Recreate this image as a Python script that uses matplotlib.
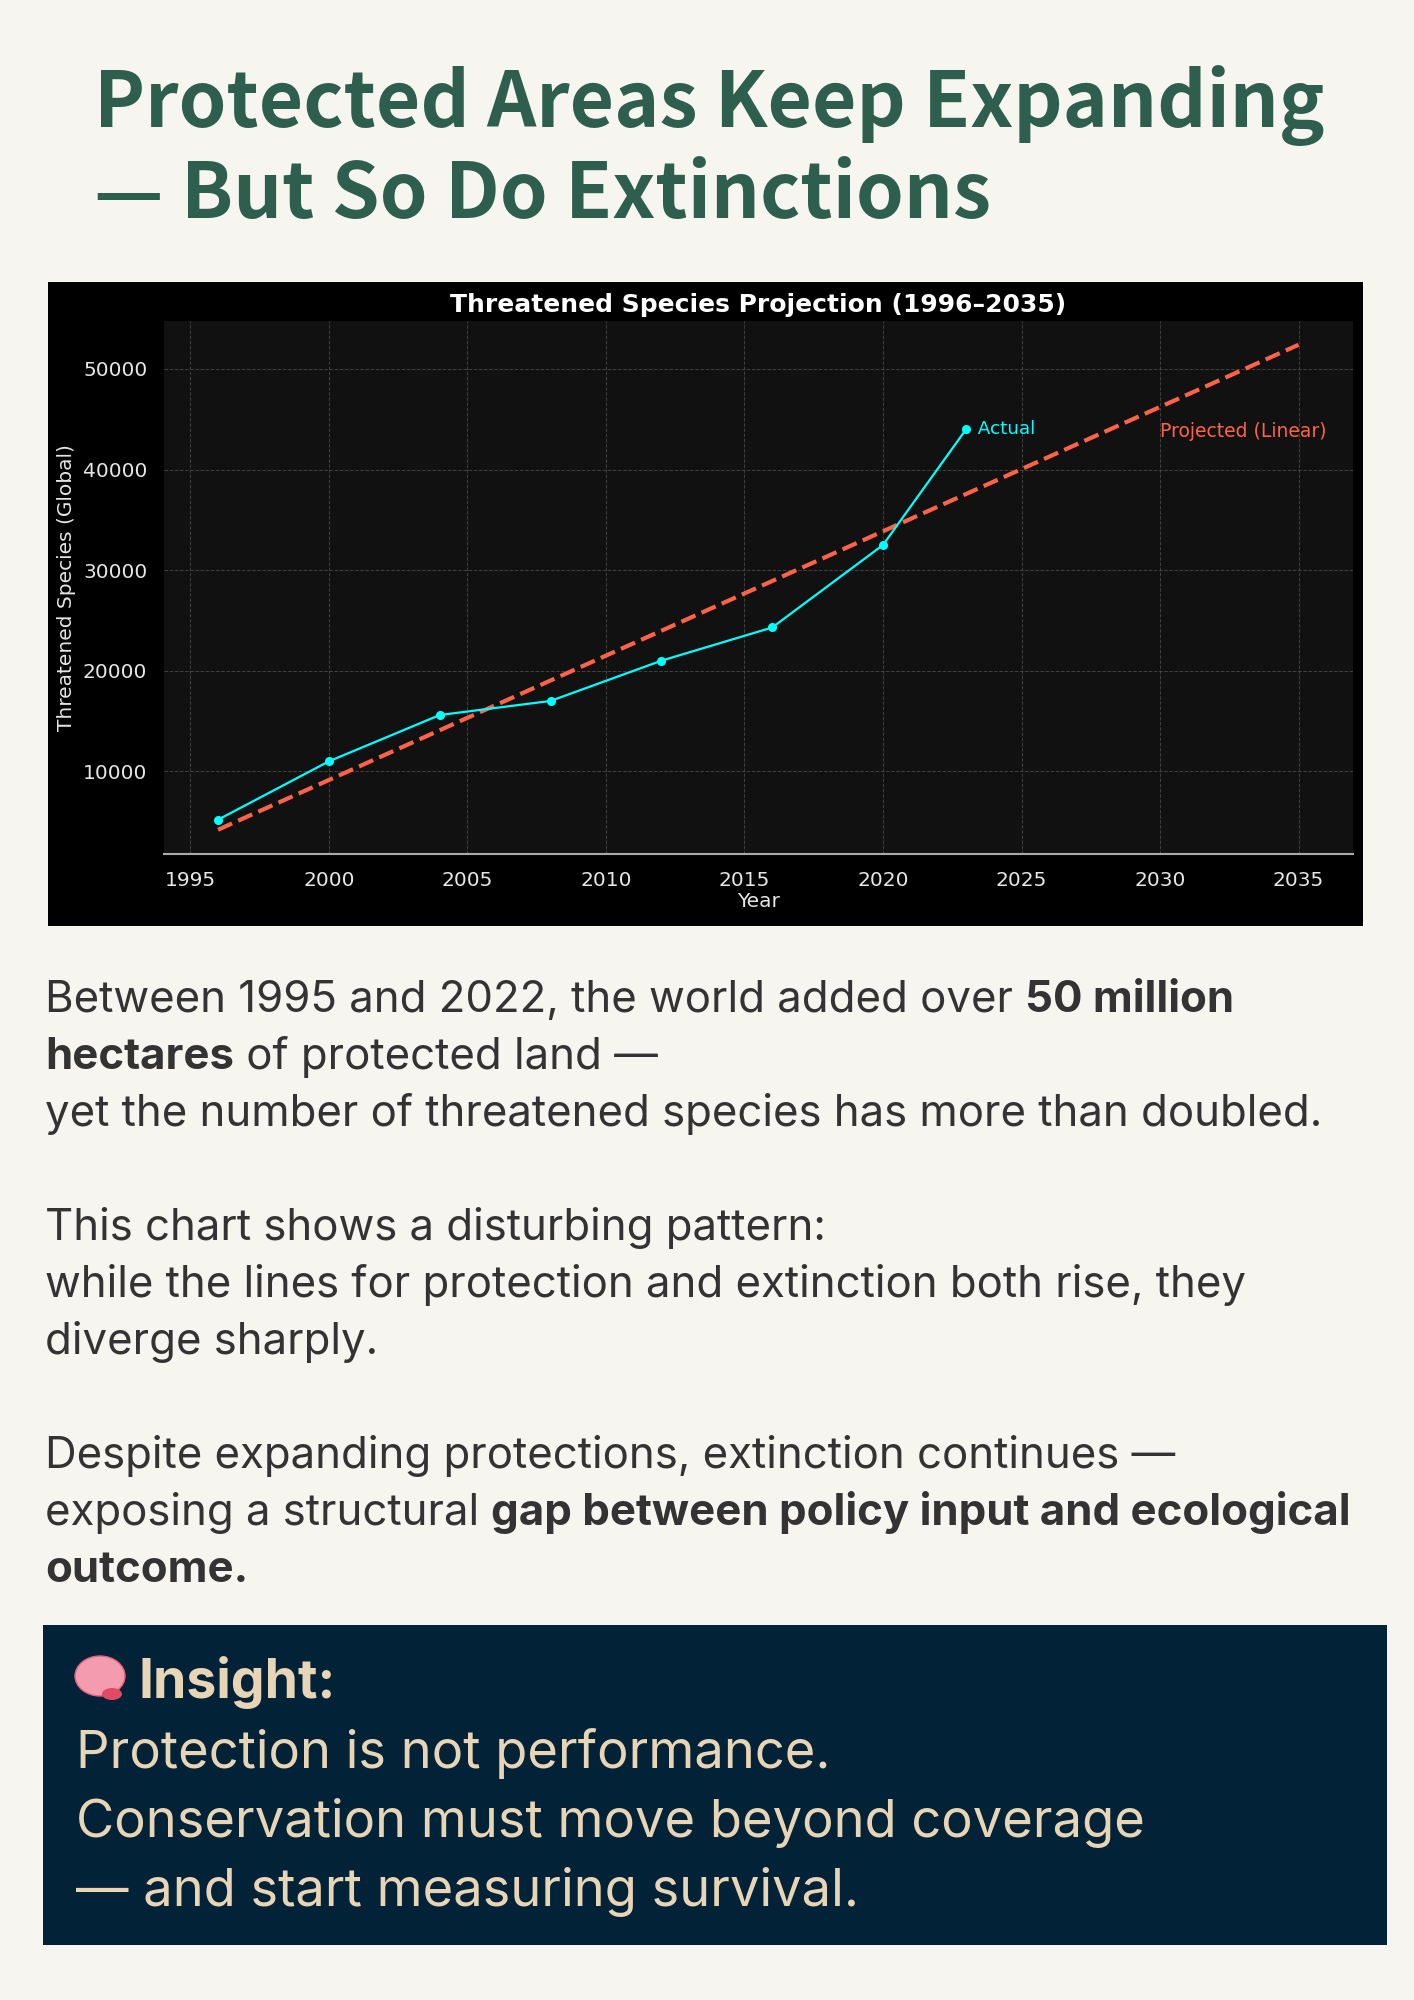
import matplotlib
matplotlib.use("Agg")
import matplotlib.pyplot as plt
from matplotlib.patches import Rectangle, Ellipse

W, H = 1414, 2000

years = [1996, 2000, 2004, 2008, 2012, 2016, 2020, 2023]
threatened = [5200, 11000, 15600, 17000, 21000, 24300, 32500, 44000]
proj_years = [1996, 2035]
proj_values = [4200, 52400]
xticks = [1995, 2000, 2005, 2010, 2015, 2020, 2025, 2030, 2035]

BG = "#f7f5f0"
GREEN = "#2e5e4e"
TEXT = "#333333"
NAVY = "#012237"
BEIGE = "#e8d5b5"
CYAN = "#00ffff"
TOMATO = "#ff6347"

title_lines = ["Protected Areas Keep Expanding", "\u2014 But So Do Extinctions"]

# (baseline px, [(text, bold), ...])
body_lines = [
    (1012, [("Between 1995 and 2022, the world added over ", False), ("50 million", True)]),
    (1069, [("hectares", True), (" of protected land \u2014", False)]),
    (1126, [("yet the number of threatened species has more than doubled.", False)]),
    (1240, [("This chart shows a disturbing pattern:", False)]),
    (1297, [("while the lines for protection and extinction both rise, they", False)]),
    (1354, [("diverge sharply.", False)]),
    (1468, [("Despite expanding protections, extinction continues \u2014", False)]),
    (1525, [("exposing a structural ", False), ("gap between policy input and ecological", True)]),
    (1582, [("outcome.", True)]),
]

insight_lines = [
    "Protection is not performance.",
    "Conservation must move beyond coverage",
    "\u2014 and start measuring survival.",
]


def fx(px):
    return px / W


def fy(py):
    return 1 - py / H


fig = plt.figure(figsize=(W / 100, H / 100), dpi=100, facecolor=BG)
renderer = fig.canvas.get_renderer()

# headline
for i, line in enumerate(title_lines):
    fig.text(fx(94), fy(127 + 91 * i), line, color=GREEN, fontsize=55.2,
             fontweight="bold", family=["Noto Sans CJK SC", "DejaVu Sans"],
             va="baseline", ha="left")

# chart panel
fig.patches.append(Rectangle((fx(48), fy(926)), fx(1363 - 48), (926 - 282) / H,
                             transform=fig.transFigure, facecolor="black",
                             edgecolor="none", zorder=-5))

ax = fig.add_axes([fx(164), fy(854), fx(1352.6 - 164), (854 - 320.5) / H])
ax.set_zorder(2)
ax.set_facecolor("#111111")
ax.plot(years, threatened, color=CYAN, lw=1.6, marker="o", ms=5.5, zorder=3)
ax.plot(proj_years, proj_values, color=TOMATO, lw=3, ls="--", zorder=2)
ax.text(years[-1], threatened[-1], "  Actual", color=CYAN, fontsize=13.2,
        va="center", ha="left")
ax.text(2030, 43800, "Projected (Linear)", color=TOMATO, fontsize=13.5,
        va="center", ha="left")
ax.set_xticks(xticks)
ax.grid(True, color="#555555", ls="--", lw=0.7, alpha=0.7)
for s in ["top", "right", "left"]:
    ax.spines[s].set_visible(False)
ax.spines["bottom"].set_color("#aaaaaa")
ax.spines["bottom"].set_linewidth(1.5)
ax.tick_params(colors="#e6e6e6", labelsize=14.5, length=0, pad=12)
ax.set_title("Threatened Species Projection (1996\u20132035)", color="white",
             fontsize=18, fontweight="bold", pad=6)
ax.set_xlabel("Year", color="#e6e6e6", fontsize=14.5, labelpad=2)
ax.set_ylabel("Threatened Species (Global)", color="#e6e6e6", fontsize=14.5,
              labelpad=5)

# body copy
for base, parts in body_lines:
    x = 45
    for txt, bold in parts:
        t = fig.text(fx(x), fy(base), txt, color=TEXT, fontsize=31.5,
                     family="Inter", fontweight="bold" if bold else "normal",
                     va="baseline", ha="left")
        x += t.get_window_extent(renderer).width

# insight box
fig.patches.append(Rectangle((fx(43), fy(1945)), fx(1387 - 43), (1945 - 1625) / H,
                             transform=fig.transFigure, facecolor=NAVY,
                             edgecolor="none", zorder=-5))
# brain icon
fig.patches.append(Ellipse((fx(100), fy(1676)), fx(50), 40 / H,
                           transform=fig.transFigure, facecolor="#f49bb0",
                           edgecolor="#e0607a", lw=1, zorder=1))
fig.patches.append(Ellipse((fx(112), fy(1694)), fx(20), 12 / H,
                           transform=fig.transFigure, facecolor="#e04a66",
                           edgecolor="none", zorder=1))
fig.text(fx(138), fy(1698), "Insight:", color=BEIGE, fontsize=38.5,
         family="Inter", fontweight="bold", va="baseline", ha="left")
for i, line in enumerate(insight_lines):
    fig.text(fx(76), fy(1768 + 69 * i), line, color=BEIGE, fontsize=37.8,
             family="Inter", va="baseline", ha="left")

fig.savefig("out.png", dpi=100, facecolor=BG)
